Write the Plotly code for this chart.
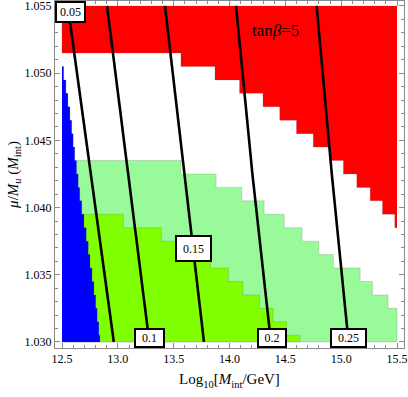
"""Region plot of mu/M_u versus Log10[M_int/GeV] for tan(beta)=5."""
import plotly.graph_objects as go

# axis limits (with a little frame padding like the original)
x_range = [12.4373, 15.5627]
y_range = [1.02955, 1.05537]
x_left_edge, x_right_edge = 12.5, 15.5

# red region: each row is 0.001 high, list gives the left edge of the row
red_top = 1.055
red_row_bottom = [1.0515, 1.0505, 1.0495, 1.0485, 1.0475, 1.0465, 1.0455,
                  1.0445, 1.0435, 1.0425, 1.0415, 1.0405, 1.0395, 1.0385]
red_row_left = [12.5, 13.565, 13.87, 14.09, 14.30, 14.45, 14.60,
                14.75, 14.90, 15.02, 15.14, 15.26, 15.37, 15.48]

# light green region: right edge of each row
lgreen_top = 1.0435
lgreen_row_bottom = [1.0425, 1.0415, 1.0405, 1.0395, 1.0385, 1.0375, 1.0365,
                     1.0355, 1.0345, 1.0335, 1.0325, 1.0315, 1.0305, 1.030]
lgreen_row_right = [13.565, 13.88, 14.11, 14.31, 14.49, 14.65, 14.80,
                    14.93, 15.17, 15.28, 15.42, 15.5, 15.5, 15.5]

# yellow-green region: right edge of each row
ygreen_top = 1.0395
ygreen_row_bottom = [1.0385, 1.0375, 1.0365, 1.0355, 1.0345, 1.0335, 1.0325,
                     1.0315, 1.0305, 1.030]
ygreen_row_right = [13.05, 13.39, 13.64, 13.83, 13.99, 14.12, 14.27,
                    14.39, 14.51, 14.63]

# blue region: right edge of each row
blue_top = 1.0505
blue_row_bottom = [1.0495, 1.0485, 1.0475, 1.0465, 1.0455, 1.0445, 1.0435,
                   1.0425, 1.0415, 1.0405, 1.0395, 1.0385, 1.0375, 1.0365,
                   1.0355, 1.0345, 1.0335, 1.0325, 1.0315, 1.0305, 1.030]
blue_row_right = [12.515, 12.535, 12.553, 12.571, 12.587, 12.600, 12.614,
                  12.630, 12.645, 12.659, 12.677, 12.697, 12.717, 12.735,
                  12.751, 12.769, 12.786, 12.802, 12.815, 12.830, 12.840]

# contour lines (x position at three heights)
contour_y = [1.055, 1.0425, 1.030]
contour_levels = ["0.05", "0.1", "0.15", "0.2", "0.25"]
contour_x = [
    [12.552, 12.758, 12.964],
    [12.903, 13.091, 13.282],
    [13.422, 13.597, 13.771],
    [14.058, 14.205, 14.371],
    [14.780, 14.916, 15.066],
]

FONT = "Liberation Serif, Times New Roman, serif"


def stair(top, bottoms, edges, anchor):
    """Staircase polygon: rows from top down, edge per row, closed at anchor."""
    xs, ys = [anchor], [top]
    prev = top
    for b, e in zip(bottoms, edges):
        xs += [e, e]
        ys += [prev, b]
        prev = b
    xs.append(anchor)
    ys.append(prev)
    return xs, ys


fig = go.Figure()

regions = [
    (red_top, red_row_bottom, red_row_left, x_right_edge, "#ff0000"),
    (lgreen_top, lgreen_row_bottom, lgreen_row_right, x_left_edge, "#99fa99"),
    (ygreen_top, ygreen_row_bottom, ygreen_row_right, x_left_edge, "#80ff00"),
    (blue_top, blue_row_bottom, blue_row_right, x_left_edge, "#0000ff"),
]
for top, bottoms, edges, anchor, color in regions:
    xs, ys = stair(top, bottoms, edges, anchor)
    fig.add_trace(go.Scatter(
        x=xs, y=ys, mode="lines", fill="toself", fillcolor=color,
        line=dict(color="rgba(90,90,90,0.35)", width=0.6),
        hoverinfo="skip", showlegend=False,
    ))

for cx in contour_x:
    fig.add_trace(go.Scatter(
        x=cx, y=contour_y, mode="lines",
        line=dict(color="black", width=2.6),
        hoverinfo="skip", showlegend=False,
    ))

# contour labels: (level, x, y, yref, yanchor, text box width, height)
label_specs = [
    ("0.05", 12.576, 1, "paper", "top", 27, 18),
    ("0.1", 13.283, 0, "paper", "bottom", 27, 16),
    ("0.15", 13.677, 1.03696, "y", "middle", 33, 23),
    ("0.2", 14.380, 0, "paper", "bottom", 26, 16),
    ("0.25", 15.065, 0, "paper", "bottom", 33, 16),
]
for text, lx, ly, yref, yanchor, w, h in label_specs:
    fig.add_annotation(
        x=lx, y=ly, xref="x", yref=yref, text=text, showarrow=False,
        xanchor="center", yanchor=yanchor, width=w, height=h,
        bgcolor="white", bordercolor="black", borderwidth=2, borderpad=0,
        font=dict(family=FONT, size=12, color="black"),
    )

fig.add_annotation(
    x=14.416, y=1.05314, xref="x", yref="y", text="tan<i>β</i>=5",
    showarrow=False, font=dict(family=FONT, size=17, color="black"),
)

axis_common = dict(
    showgrid=False, zeroline=False, showline=True, linecolor="#8a8a8a",
    linewidth=1, mirror="ticks", ticks="inside", tickcolor="#8a8a8a",
    ticklen=5, automargin=False, ticklabeloverflow="allow",
    tickfont=dict(family=FONT, size=12, color="black"),
)
fig.update_xaxes(
    range=x_range, tick0=12.5, dtick=0.5, tickformat=".1f",
    minor=dict(dtick=0.1, ticks="inside", ticklen=3, tickcolor="#8a8a8a"),
    title=dict(text="Log<sub>10</sub>[<i>M</i><sub>int</sub>/GeV]",
               font=dict(family=FONT, size=15, color="black"), standoff=8),
    **axis_common,
)
fig.update_yaxes(
    range=y_range, tick0=1.030, dtick=0.005, tickformat=".3f",
    minor=dict(dtick=0.001, ticks="inside", ticklen=3, tickcolor="#8a8a8a"),
    title=dict(text="<i>μ</i>/<i>M<sub>u</sub></i> (<i>M</i><sub>int</sub>)",
               font=dict(family=FONT, size=15, color="black"), standoff=2),
    **axis_common,
)
fig.update_layout(
    width=408, height=397,
    margin=dict(l=55, r=4, t=1, b=49),
    plot_bgcolor="white", paper_bgcolor="white",
)

# the page body has a default 8px margin; drop it so the figure fills the window
fig.write_html(
    "out.html",
    config={"displayModeBar": False},
    post_script="document.body.style.margin = '0px';",
)
